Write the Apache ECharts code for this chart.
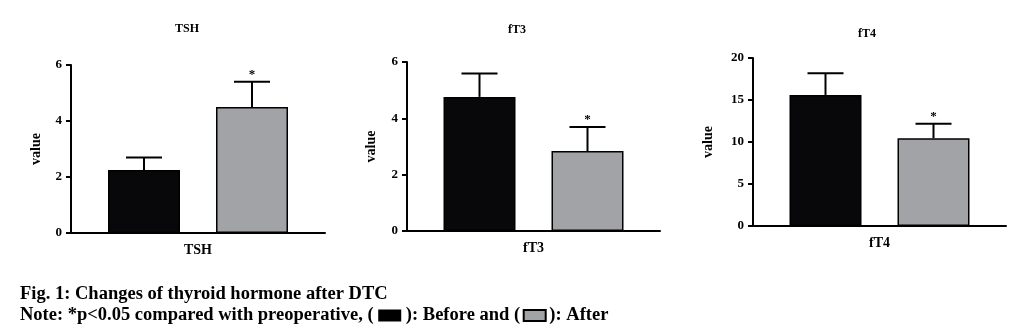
<!DOCTYPE html>
<html>
<head>
<meta charset="utf-8">
<script src="https://cdn.jsdelivr.net/npm/echarts@6/dist/echarts.min.js"></script>
<style>
  html, body { margin: 0; padding: 0; background: #fff; }
  #chart { width: 1024px; height: 333px; }
</style>
</head>
<body>
<div id="chart"></div>
<script>
// Thyroid hormone levels before and after DTC surgery (mean with SD)
const hormones = ['TSH', 'fT3', 'fT4'];
const beforeMean = [2.25, 4.76, 15.6];
const beforeErr = [0.45, 0.83, 2.58];
const afterMean = [4.5, 2.84, 10.45];
const afterErr = [0.9, 0.85, 1.73];
const afterMark = ['*', '*', '*'];
const yMax = [6, 6, 20];
const yStep = [2, 2, 5];

// panel placement (pixels)
const panels = [
  { left: 71, top: 65, width: 254, height: 168, titleX: 182, titleY: 18, nameGap: 28 },
  { left: 407, top: 62, width: 253, height: 169, titleX: 512, titleY: 19, nameGap: 29 },
  { left: 753, top: 58, width: 253, height: 168, titleX: 862, titleY: 23, nameGap: 38 }
];

const FONT = '"Liberation Serif", "Times New Roman", serif';
const BLACK = '#08080a';
const GRAY = '#a2a3a7';
const BAR_W = 72;
const BAR_GAP = 0.5;
const HALF_SPAN = (BAR_W + BAR_W * BAR_GAP) / 2;
const CAP_HALF = 18;

function errorSeries(i, mean, err, dir, mark) {
  return {
    type: 'custom',
    xAxisIndex: i,
    yAxisIndex: i,
    z: 5,
    data: [[hormones[i], mean[i], err[i]]],
    renderItem: function (params, api) {
      const base = api.coord([api.value(0), api.value(1)]);
      const tip = api.coord([api.value(0), api.value(1) + api.value(2)]);
      const x = base[0] + dir * HALF_SPAN;
      const style = { stroke: '#000', lineWidth: 2 };
      const children = [
        { type: 'line', shape: { x1: x, y1: base[1], x2: x, y2: tip[1] }, style: style },
        { type: 'line', shape: { x1: x - CAP_HALF, y1: tip[1], x2: x + CAP_HALF, y2: tip[1] }, style: style }
      ];
      if (mark && mark[i]) {
        children.push({
          type: 'text',
          x: x, y: tip[1] - 1,
          style: {
            text: mark[i], fill: '#000', font: 'bold 13px ' + FONT,
            align: 'center', verticalAlign: 'bottom'
          }
        });
      }
      return { type: 'group', children: children };
    }
  };
}

const grid = [], xAxis = [], yAxis = [], series = [], title = [];
panels.forEach(function (p, i) {
  grid.push({ left: p.left, top: p.top, width: p.width, height: p.height, containLabel: false });
  title.push({
    text: hormones[i], left: p.titleX, top: p.titleY, textAlign: 'center',
    textStyle: { fontFamily: FONT, fontWeight: 'bold', fontSize: 12, color: '#000' }
  });
  xAxis.push({
    type: 'category', gridIndex: i, data: [hormones[i]],
    axisLine: { lineStyle: { color: '#000', width: 2 } },
    axisTick: { alignWithLabel: true, length: 7, lineStyle: { color: '#000', width: 2 } },
    axisLabel: { color: '#000', fontFamily: FONT, fontWeight: 'bold', fontSize: 14, margin: 10 }
  });
  yAxis.push({
    type: 'value', gridIndex: i, min: 0, max: yMax[i], interval: yStep[i],
    name: 'value', nameLocation: 'middle', nameRotate: 90, nameGap: p.nameGap,
    nameTextStyle: { color: '#000', fontFamily: FONT, fontWeight: 'bold', fontSize: 14 },
    axisLine: { show: true, lineStyle: { color: '#000', width: 2 } },
    axisTick: { show: true, length: 5, lineStyle: { color: '#000', width: 2 } },
    axisLabel: { color: '#000', fontFamily: FONT, fontWeight: 'bold', fontSize: 13, margin: 9 },
    splitLine: { show: false }
  });
  series.push({
    name: 'Before', type: 'bar', xAxisIndex: i, yAxisIndex: i,
    data: [beforeMean[i]], barWidth: BAR_W, barGap: (BAR_GAP * 100) + '%',
    itemStyle: { color: BLACK, borderColor: '#000', borderWidth: 1.5 }
  });
  series.push({
    name: 'After', type: 'bar', xAxisIndex: i, yAxisIndex: i,
    data: [afterMean[i]], barWidth: BAR_W, barGap: (BAR_GAP * 100) + '%',
    itemStyle: { color: GRAY, borderColor: '#000', borderWidth: 1.5 }
  });
  series.push(errorSeries(i, beforeMean, beforeErr, -1, null));
  series.push(errorSeries(i, afterMean, afterErr, 1, afterMark));
});

// figure caption with inline key swatches
title.push({
  left: 15, top: 279,
  text: 'Fig. 1: Changes of thyroid hormone after DTC\nNote: *p<0.05 compared with preoperative, ( {k|} ): Before and ( {g|} ): After',
  textStyle: {
    fontFamily: FONT, fontWeight: 'bold', fontSize: 18.5, color: '#000', lineHeight: 21,
    rich: {
      k: { width: 23, height: 12, backgroundColor: '#000' },
      g: { width: 20, height: 9, backgroundColor: GRAY, borderColor: '#000', borderWidth: 2 }
    }
  }
});

const chart = echarts.init(document.getElementById('chart'), null, { renderer: 'canvas' });
chart.setOption({
  animation: false,
  backgroundColor: '#fff',
  title: title,
  grid: grid,
  xAxis: xAxis,
  yAxis: yAxis,
  series: series
});
</script>
</body>
</html>
